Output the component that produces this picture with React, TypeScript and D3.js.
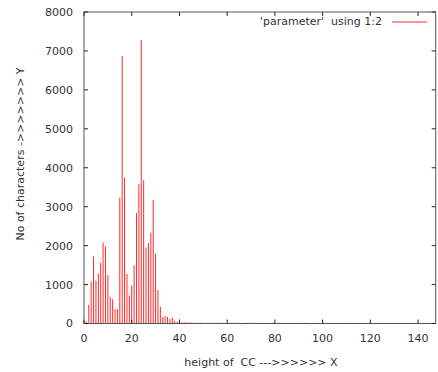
import React from "react";
import * as d3 from "d3";

const xValues: number[] = [1,2,3,4,5,6,7,8,9,10,11,12,13,14,15,16,17,18,19,20,21,22,23,24,25,26,27,28,29,30,31,32,33,34,35,36,37,38,39,40,41,42,43,44,45,46,47,48,49,50,
  52,53,54,55,56,57,58,59,61,62,63,64,65,68,69,70,71,72,73,79,82,89,93,97,107,109,124];
const yValues: number[] = [50,480,1080,1720,1100,1280,1560,2080,1980,1240,680,620,370,370,3230,6870,3740,1270,720,980,1500,2840,3580,7280,3680,1950,2070,2330,3170,1790,860,430,170,190,170,120,150,70,50,40,30,30,30,25,25,20,20,20,20,15,
  20,15,20,15,20,15,20,15,20,15,20,15,20,20,15,20,15,20,15,20,20,15,20,15,15,20,15];
const xTicks: number[] = [0,20,40,60,80,100,120,140];
const yTicks: number[] = [0,1000,2000,3000,4000,5000,6000,7000,8000];
const legendLabel = "'parameter'  using 1:2";
const xTitle = "height of  CC --->>>>>> X";
const yTitle = "No of characters ->>>>>>> Y";

export default function App() {
  const W = 438, H = 372;
  const left = 84, right = 435.7, top = 12, bottom = 323.5;
  const x = d3.scaleLinear().domain([0, 147.4]).range([left, right]);
  const y = d3.scaleLinear().domain([0, 8000]).range([bottom, top]);
  const font = "'DejaVu Sans', sans-serif";
  const fs = 11;
  const tc = "#333";
  const tl = 4;
  const pre: React.CSSProperties = { whiteSpace: "pre" };
  return (
    <svg width={W} height={H} style={{ position: "absolute", left: 0, top: 0, background: "#fff" }}>
      {xValues.map((xv, i) => (
        <line key={"b" + i} x1={x(xv)} x2={x(xv)} y1={y(0)} y2={y(yValues[i])} stroke="#ff2a2a" strokeWidth={1} />
      ))}
      <rect x={left} y={top} width={right - left} height={bottom - top} fill="none" stroke="#555" strokeWidth={1} />
      {yTicks.map((t) => (
        <g key={"y" + t}>
          <line x1={left} x2={left + tl} y1={y(t)} y2={y(t)} stroke="#222" />
          <line x1={right} x2={right - tl} y1={y(t)} y2={y(t)} stroke="#222" />
          <text x={73} y={y(t)} dy="0.36em" textAnchor="end" fontFamily={font} fontSize={fs} fill={tc}>{t}</text>
        </g>
      ))}
      {xTicks.map((t) => (
        <g key={"x" + t}>
          <line x1={x(t)} x2={x(t)} y1={bottom} y2={bottom - tl} stroke="#222" />
          <line x1={x(t)} x2={x(t)} y1={top} y2={top + tl} stroke="#222" />
          <text x={x(t)} y={342} textAnchor="middle" fontFamily={font} fontSize={fs} fill={tc}>{t}</text>
        </g>
      ))}
      <text x={261} y={366} textAnchor="middle" fontFamily={font} fontSize={fs} fill={tc} style={pre}>{xTitle}</text>
      <text transform={`translate(24,154) rotate(-90)`} textAnchor="middle" fontFamily={font} fontSize={fs} fill={tc} style={pre}>{yTitle}</text>
      <text x={382} y={25} textAnchor="end" fontFamily={font} fontSize={fs} fill={tc} style={pre}>{legendLabel}</text>
      <line x1={392} x2={427} y1={22} y2={22} stroke="#ff2a2a" strokeWidth={1} />
    </svg>
  );
}
